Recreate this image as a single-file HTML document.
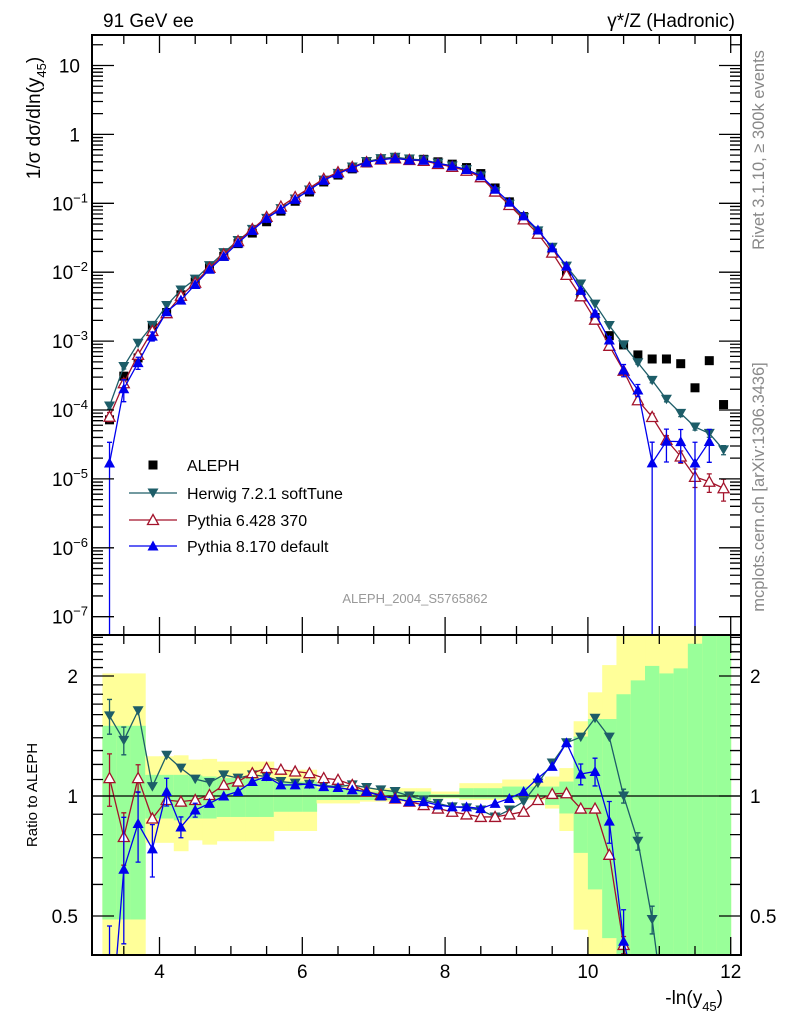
<!DOCTYPE html>
<html><head><meta charset="utf-8"><style>
html,body{margin:0;padding:0;background:#fff;overflow:hidden;width:786px;height:1024px;}
svg{display:block;font-family:"Liberation Sans",Arial,sans-serif;}
</style></head><body>
<svg id="chart" width="786" height="1024" viewBox="0 0 786 1024" xmlns="http://www.w3.org/2000/svg">
<defs>
<clipPath id="clipTop"><rect x="92" y="35" width="649" height="600"/></clipPath>
<clipPath id="clipRat"><rect x="92" y="636" width="649" height="318"/></clipPath>
</defs>
<g id="bands" clip-path="url(#clipRat)"></g>
<g id="ratio" clip-path="url(#clipRat)"></g>
<g id="main" clip-path="url(#clipTop)"></g>
<g id="axes"></g>
<text x="103" y="27" font-size="19">91 GeV ee</text>
<text x="735" y="27" font-size="19" text-anchor="end">γ*/Z (Hadronic)</text>
<text transform="translate(40,118) rotate(-90)" font-size="19" text-anchor="middle">1/σ  dσ/dln(y<tspan font-size="13" dy="6">45</tspan><tspan dy="-6">)</tspan></text>
<text transform="translate(37,795) rotate(-90)" font-size="15" text-anchor="middle">Ratio to ALEPH</text>
<text x="723" y="1004" font-size="19" text-anchor="end">-ln(y<tspan font-size="13" dy="7">45</tspan><tspan dy="-7">)</tspan></text>
<text transform="translate(764,150) rotate(-90)" font-size="16.5" fill="#888" text-anchor="middle">Rivet 3.1.10, ≥ 300k events</text>
<text transform="translate(764,487) rotate(-90)" font-size="16.5" fill="#888" text-anchor="middle">mcplots.cern.ch [arXiv:1306.3436]</text>
<text x="415" y="603" font-size="13" fill="#999" text-anchor="middle">ALEPH_2004_S5765862</text>
<g id="legend"></g>
</svg>
<script>
const centers = [3.3,3.5,3.7,3.9,4.1,4.3,4.5,4.7,4.9,5.1,5.3,5.5,5.7,5.9,6.1,6.3,6.5,6.7,6.9,7.1,7.3,7.5,7.7,7.9,8.1,8.3,8.5,8.7,8.9,9.1,9.3,9.5,9.7,9.9,10.1,10.3,10.5,10.7,10.9,11.1,11.3,11.5,11.7,11.9];
const alephVals = [7.2e-5,3.1e-4,5.7e-4,1.6e-3,2.6e-3,4.7e-3,7.2e-3,1.15e-2,1.7e-2,2.6e-2,3.7e-2,5.4e-2,7.7e-2,0.107,0.146,0.204,0.257,0.316,0.385,0.43,0.455,0.44,0.435,0.40,0.37,0.33,0.27,0.167,0.105,0.064,0.037,0.019,9e-3,4.8e-3,2.2e-3,1.2e-3,8.8e-4,6.3e-4,5.5e-4,5.5e-4,4.7e-4,2.1e-4,5.2e-4,1.2e-4];
const herwigRatio = [1.588,1.379,1.636,1.056,1.265,1.175,1.102,1.081,1.13,1.109,1.13,1.119,1.087,1.077,1.070,1.062,1.056,1.066,1.05,1.036,1.026,1.0,0.977,0.958,0.939,0.934,0.922,0.886,0.922,0.968,1.077,1.21,1.36,1.405,1.567,1.405,1.0,0.77,0.49,0.26,0.19,0.27,0.088,0.22];
const py6Ratio = [1.109,0.789,1.109,0.878,0.977,0.968,0.977,1.006,1.066,1.087,1.141,1.175,1.164,1.152,1.141,1.109,1.098,1.066,1.026,1.006,0.986,0.968,0.949,0.93,0.913,0.899,0.886,0.886,0.899,0.913,0.977,1.012,1.016,0.93,0.93,0.712,0.423,0.22,0.144,0.067,0.045,0.051,0.0175,0.061];
const py8Ratio = [0.236,0.655,0.853,0.737,1.026,0.836,0.922,0.958,1.0,1.026,1.087,1.119,1.066,1.066,1.072,1.056,1.05,1.036,1.026,1.0,0.986,0.968,0.968,0.949,0.939,0.939,0.93,0.958,0.986,1.026,1.109,1.187,1.36,1.135,1.152,0.865,0.432,0.31,0.031,0.064,0.074,0.081,0.067,null];
const herwigErr = [0.1,0.08,0.03,0.02,0.02,0.02,0.02,0.02,0.02,0.02,0.02,0.02,0.02,0.02,0.02,0.02,0.02,0.02,0.02,0.02,0.02,0.02,0.02,0.02,0.02,0.02,0.02,0.02,0.02,0.02,0.02,0.02,0.02,0.02,0.02,0.02,0.04,0.05,0.08,0.08,0.1,0.1,0.12,0.15];
const py6Err = [0.15,0.15,0.08,0.03,0.03,0.02,0.02,0.02,0.02,0.02,0.02,0.02,0.02,0.02,0.02,0.02,0.02,0.02,0.02,0.02,0.02,0.02,0.02,0.02,0.02,0.02,0.02,0.02,0.02,0.02,0.02,0.02,0.02,0.02,0.02,0.03,0.05,0.1,0.12,0.15,0.2,0.3,0.3,0.35];
const py8Err = [1.0,0.35,0.2,0.15,0.08,0.06,0.04,0.03,0.03,0.02,0.02,0.02,0.02,0.02,0.02,0.02,0.02,0.02,0.02,0.02,0.02,0.02,0.02,0.02,0.02,0.02,0.02,0.02,0.02,0.02,0.02,0.02,0.03,0.06,0.08,0.12,0.2,0.2,1.0,0.5,0.5,1.0,0.5,0];
const yellowLo = [0.3,0.3,0.3,0.763,0.763,0.727,0.774,0.755,0.77,0.77,0.77,0.77,0.817,0.817,0.817,0.958,0.958,0.958,0.968,0.968,0.968,0.968,0.968,0.986,0.986,0.977,0.977,0.977,0.977,0.977,0.977,0.93,0.817,0.462,0.3,0.3,0.3,0.3,0.3,0.3,0.3,0.3,0.3,0.3];
const yellowHi = [2.03,2.03,2.03,1.258,1.258,1.265,1.234,1.239,1.22,1.22,1.22,1.22,1.164,1.164,1.164,1.056,1.056,1.056,1.046,1.046,1.046,1.046,1.046,1.026,1.026,1.077,1.077,1.077,1.1,1.1,1.1,1.119,1.175,1.54,1.82,2.13,2.6,2.6,2.6,2.6,2.6,2.6,2.6,2.6];
const greenLo = [0.49,0.49,0.49,0.878,0.878,0.869,0.878,0.878,0.886,0.886,0.886,0.886,0.913,0.913,0.913,0.977,0.977,0.977,0.977,0.977,0.977,0.977,0.977,0.99,0.99,0.986,0.986,0.986,0.986,0.986,0.986,0.95,0.904,0.72,0.583,0.44,0.3,0.3,0.3,0.3,0.3,0.3,0.3,0.3];
const greenHi = [1.5,1.5,1.5,1.13,1.13,1.13,1.126,1.119,1.109,1.109,1.109,1.109,1.087,1.087,1.087,1.046,1.046,1.046,1.026,1.026,1.026,1.026,1.026,1.01,1.01,1.046,1.046,1.046,1.056,1.056,1.056,1.056,1.087,1.41,1.56,1.56,1.8,1.95,2.12,2.03,2.09,2.41,2.53,2.53];
const xTicks = [4,6,8,10,12];
const yTopExps = [1,0,-1,-2,-3,-4,-5,-6,-7];
const ratioTicks = [2,1,0.5];
const ratioTickLabels = ["2","1","0.5"];
const legendLabels = ["ALEPH","Herwig 7.2.1 softTune","Pythia 6.428 370","Pythia 8.170 default"];

const NS="http://www.w3.org/2000/svg";
const X = v => 159.5 + (v-4)*71.4;
const YT = v => 203.3 - 68.9*Math.log10(v/0.1);
const YR = r => 796 - 120*Math.log2(r);
const HW = 0.1;
function mk(parent, tag, attrs){const e=document.createElementNS(NS,tag);for(const k in attrs)e.setAttribute(k,attrs[k]);parent.appendChild(e);return e;}
const gB=document.getElementById('bands'), gR=document.getElementById('ratio'), gM=document.getElementById('main'), gA=document.getElementById('axes'), gL=document.getElementById('legend');

centers.forEach((c,i)=>{
  const y1=mk(gB,'rect',{x:X(c-HW),y:YR(yellowHi[i]),width:X(c+HW)-X(c-HW)+0.5,height:YR(yellowLo[i])-YR(yellowHi[i]),fill:'#ffff99'});
  
  
  const g1=mk(gB,'rect',{x:X(c-HW),y:YR(greenHi[i]),width:X(c+HW)-X(c-HW)+0.5,height:YR(greenLo[i])-YR(greenHi[i]),fill:'#99ff99'});
  
  
});
const refLine=mk(gR,'line',{x1:92,x2:741,y1:YR(1),y2:YR(1),stroke:'#000','stroke-width':1.3});



function marker(g,type,x,y,color){
  let e;
  if(type==='sq'){e=mk(g,'rect',{x:x-4.5,y:y-4.5,width:9,height:9,fill:'#000'});}
  else if(type==='down'){e=mk(g,'polygon',{points:`${x-5.5},${y-4.5} ${x+5.5},${y-4.5} ${x},${y+5}`,fill:color});}
  else if(type==='upOpen'){e=mk(g,'polygon',{points:`${x-5.5},${y+4.5} ${x+5.5},${y+4.5} ${x},${y-5.5}`,fill:'#fff',stroke:color,'stroke-width':1.3});}
  else {e=mk(g,'polygon',{points:`${x-5.5},${y+4.5} ${x+5.5},${y+4.5} ${x},${y-5.5}`,fill:color});}
  return e;
}
const series=[
  {name:'herwig',ratio:herwigRatio,err:herwigErr,color:'#1d5d68',type:'down'},
  {name:'pythia6',ratio:py6Ratio,err:py6Err,color:'#a3132b',type:'upOpen'},
  {name:'pythia8',ratio:py8Ratio,err:py8Err,color:'#0000ee',type:'up'}
];
series.forEach(s=>{
  let dT='',dR='';
  centers.forEach((c,i)=>{
    const r=s.ratio[i]; if(r==null) return;
    const v=alephVals[i]*r;
    dT+=(dT?'L':'M')+X(c)+','+YT(v);
    dR+=(dR?'L':'M')+X(c)+','+YR(r);
  });
  const pT=mk(gM,'path',{d:dT,fill:'none',stroke:s.color,'stroke-width':1.3});
  
  
  const pR=mk(gR,'path',{d:dR,fill:'none',stroke:s.color,'stroke-width':1.3});
  
  
  centers.forEach((c,i)=>{
    const r=s.ratio[i]; if(r==null) return;
    const v=alephVals[i]*r, e=s.err[i];
    const lo=Math.max(v*(1-e),1e-12), hi=v*(1+e);
    const x=X(c);
    if(e>0.03){
      const eb=mk(gM,'path',{d:`M${x},${YT(lo)}L${x},${YT(hi)}M${x-2.5},${YT(hi)}L${x+2.5},${YT(hi)}M${x-2.5},${YT(lo)}L${x+2.5},${YT(lo)}`,stroke:s.color,'stroke-width':1.3,fill:'none'});
      
      
      const rl=Math.max(r*(1-e),1e-6), rh=r*(1+e);
      const er=mk(gR,'path',{d:`M${x},${YR(rl)}L${x},${YR(rh)}M${x-2.5},${YR(rh)}L${x+2.5},${YR(rh)}M${x-2.5},${YR(rl)}L${x+2.5},${YR(rl)}`,stroke:s.color,'stroke-width':1.3,fill:'none'});
      
      
    }
    const m=marker(gM,s.type,x,YT(v),s.color);
    
    
    const m2=marker(gR,s.type,x,YR(r),s.color);
    
    
  });
});
centers.forEach((c,i)=>{
  const m=marker(gM,'sq',X(c),YT(alephVals[i]),'#000');
  gM.insertBefore(m,gM.firstChild);
  
  
});

[[92,35,649,600],[92,635,649,320]].forEach((f,k)=>{
  const r=mk(gA,'rect',{x:f[0],y:f[1],width:f[2],height:f[3],fill:'none',stroke:'#000','stroke-width':2});
  
  
});
let tk='';
for(let v=3.5;v<=12.01;v+=0.5){
  const x=X(v); if(x<93||x>740) continue;
  const major=Math.abs(v-Math.round(v))<0.01 && Math.round(v)%2===0;
  const L=major?18:9;
  tk+=`M${x},35v${L}M${x},635v${-L}M${x},635v${L}M${x},955v${-L}`;
}
yTopExps.forEach(ex=>{
  const y=YT(Math.pow(10,ex));
  tk+=`M92,${y}h22M741,${y}h-22`;
  for(let m=2;m<=9;m++){const ym=YT(m*Math.pow(10,ex)); if(ym>35&&ym<635) tk+=`M92,${ym}h11M741,${ym}h-11`;}
});
for(let r=0.4;r<2.55;r+=0.1){
  const y=YR(r); if(y<636||y>954) continue;
  const major=ratioTicks.some(t=>Math.abs(t-r)<0.01);
  const L=major?22:11;
  tk+=`M92,${y}h${L}M741,${y}h${-L}`;
}
const tp=mk(gA,'path',{d:tk,stroke:'#000','stroke-width':1.3,fill:'none'});


xTicks.forEach(v=>{
  const t=mk(gA,'text',{x:X(v),y:978,'font-size':19,'text-anchor':'middle'});
  t.textContent=String(v);
  
  
});
yTopExps.forEach(ex=>{
  const y=YT(Math.pow(10,ex));
  const t=mk(gA,'text',{x:ex<0?86:80,y:y+7,'font-size':19,'text-anchor':'end'});
  if(ex===1) t.textContent='10';
  else if(ex===0) t.textContent='1';
  else { t.textContent='10'; const s=document.createElementNS(NS,'tspan'); s.setAttribute('font-size','13'); s.setAttribute('dy','-8'); s.textContent='−'+(-ex); t.appendChild(s); t.setAttribute('x','88'); }
  
  
});
ratioTicks.forEach((r,i)=>{
  const y=YR(r);
  const t=mk(gA,'text',{x:78,y:y+7,'font-size':19,'text-anchor':'end'});
  t.textContent=ratioTickLabels[i];
  
  
  const t2=mk(gA,'text',{x:750,y:y+7,'font-size':19,'text-anchor':'start'});
  t2.textContent=ratioTickLabels[i];
  
  
});
const legY=[465,493,520,546];
const legColors=['#000','#1d5d68','#a3132b','#0000ee'];
const legTypes=['sq','down','upOpen','up'];
legendLabels.forEach((lab,i)=>{
  const y=legY[i];
  if(i>0){const l=mk(gL,'line',{x1:129,x2:177,y1:y,y2:y,stroke:legColors[i],'stroke-width':1.3});
    
    }
  const m=marker(gL,legTypes[i],153,y,legColors[i]);
  
  
  const t=mk(gL,'text',{x:187,y:y+6,'font-size':16});
  t.textContent=lab;
  
  
});
</script>
</body></html>
